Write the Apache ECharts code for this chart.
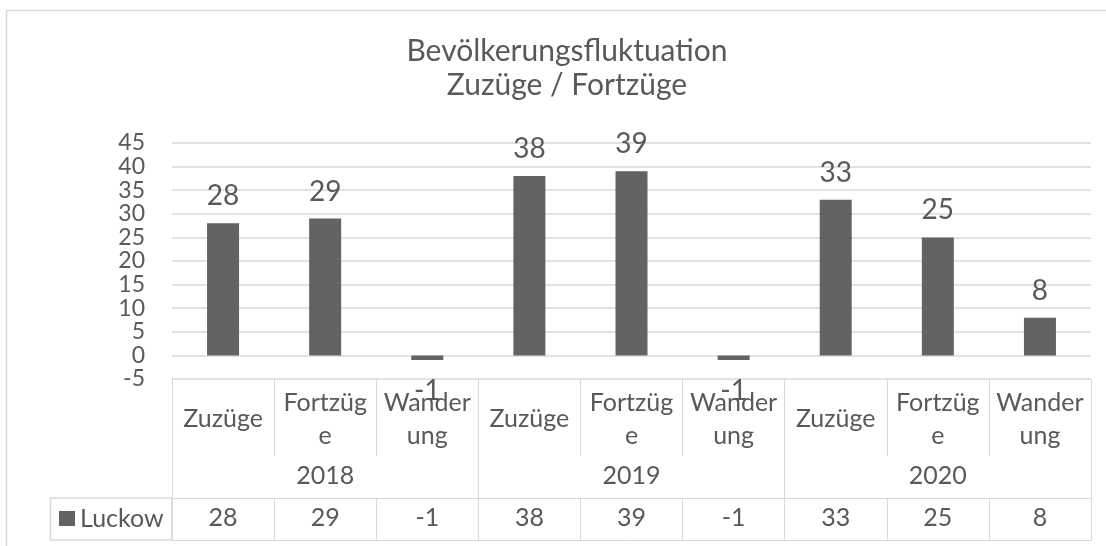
<!DOCTYPE html>
<html>
<head>
<meta charset="utf-8">
<script src="https://cdn.jsdelivr.net/npm/echarts@6/dist/echarts.min.js"></script>
<style>
  html, body { margin: 0; padding: 0; background: #fff; }
  #chart { width: 1106px; height: 546px; }
</style>
</head>
<body>
<div id="chart"></div>
<script>
// Bevölkerungsfluktuation Luckow
var categories = ['Zuzüge', 'Fortzüge', 'Wanderung', 'Zuzüge', 'Fortzüge', 'Wanderung', 'Zuzüge', 'Fortzüge', 'Wanderung']
var years = ['2018', '2019', '2020']
var seriesName = 'Luckow'
var luckow = [28, 29, -1, 38, 39, -1, 33, 25, 8]

// wie im Original umbrochen (Spalte zu schmal)
var wrapped = { 'Fortzüge': 'Fortzüg\ne', 'Wanderung': 'Wander\nung' }

var textColor = '#595959'
var lineColor = '#d9d9d9'
var font = 'Lato'

var chart = echarts.init(document.getElementById('chart'))

var option = {
  animation: false,
  textStyle: { fontFamily: font },
  title: {
    text: 'Bevölkerungsfluktuation\nZuzüge / Fortzüge',
    left: 562,
    top: 29,
    textAlign: 'center',
    textStyle: {
      fontFamily: font,
      fontWeight: 'normal',
      fontSize: 30,
      lineHeight: 34,
      color: textColor
    }
  },
  legend: {
    data: [seriesName],
    left: 59,
    top: 506,
    padding: 0,
    icon: 'rect',
    itemWidth: 16,
    itemHeight: 15,
    itemGap: 6,
    textStyle: { fontFamily: font, fontSize: 25, color: textColor }
  },
  grid: {
    left: 172,
    right: 15,
    top: 143,
    bottom: 167
  },
  xAxis: [
    {
      // Unterkategorien (Zeile 1 der Tabelle)
      type: 'category',
      data: categories,
      position: 'bottom',
      axisLine: { show: false, onZero: false },
      axisTick: { show: true, interval: 0, length: 77, lineStyle: { color: lineColor } },
      axisLabel: {
        interval: 0,
        margin: 40,
        verticalAlign: 'middle',
        fontSize: 25,
        lineHeight: 33,
        color: textColor,
        formatter: function (v) { return wrapped[v] || v }
      }
    },
    {
      // Jahre (Zeile 2)
      type: 'category',
      data: years,
      position: 'bottom',
      axisLine: { show: false, onZero: false },
      axisTick: { show: true, interval: 0, length: 119, lineStyle: { color: lineColor } },
      axisLabel: {
        interval: 0,
        margin: 97,
        verticalAlign: 'middle',
        fontSize: 25,
        color: textColor
      }
    },
    {
      // Werte (Zeile 3)
      type: 'category',
      data: luckow.map(String),
      position: 'bottom',
      offset: 119,
      axisLine: { show: true, onZero: false, lineStyle: { color: lineColor } },
      axisTick: { show: true, interval: 0, length: 42, lineStyle: { color: lineColor } },
      axisLabel: {
        interval: 0,
        margin: 20,
        verticalAlign: 'middle',
        fontSize: 25,
        color: textColor
      }
    },
    {
      // untere Tabellenlinie
      type: 'category',
      data: categories,
      position: 'bottom',
      offset: 161,
      axisLine: { show: true, onZero: false, lineStyle: { color: lineColor } },
      axisTick: { show: false },
      axisLabel: { show: false }
    }
  ],
  yAxis: {
    type: 'value',
    min: -5,
    max: 45,
    interval: 5,
    axisLine: { show: false },
    axisTick: { show: false },
    axisLabel: { fontSize: 23, color: textColor, margin: 27 },
    splitLine: { lineStyle: { color: lineColor, width: 1.5 } }
  },
  series: [
    {
      name: seriesName,
      type: 'bar',
      xAxisIndex: 0,
      barWidth: 32,
      itemStyle: { color: '#636363' },
      label: {
        show: true,
        fontSize: 28,
        color: textColor,
        position: 'top',
        distance: 13
      },
      data: luckow.map(function (v) {
        if (v < 0) {
          return { value: v, label: { position: 'bottom', distance: 17 } }
        }
        return v
      })
    }
  ],
  graphic: [
    {
      // Rahmen des Diagramms
      type: 'rect',
      shape: { x: 6.5, y: 10.5, width: 1200, height: 600 },
      style: { fill: 'none', stroke: lineColor, lineWidth: 1.5 },
      silent: true
    },
    {
      // Legendenzelle
      type: 'rect',
      shape: { x: 50.5, y: 498, width: 121.5, height: 42 },
      style: { fill: 'none', stroke: lineColor, lineWidth: 1.5 },
      silent: true
    }
  ]
}

chart.setOption(option)
</script>
</body>
</html>
